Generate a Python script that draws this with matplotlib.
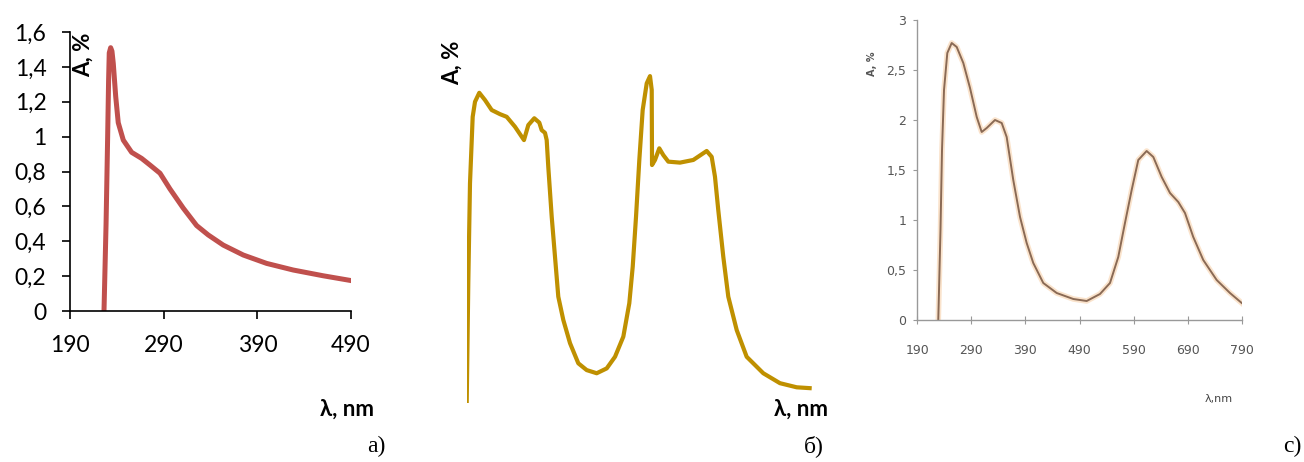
import matplotlib
matplotlib.use("Agg")
import matplotlib.pyplot as plt

# panel a) spectrum
wl_a = [226.3, 228.5, 230.2, 231.2, 231.9, 233.4, 234.8, 236.2, 238.8, 241.5,
        246.9, 255.8, 266.5, 275.4, 286.1, 296.7, 310.9, 325.2, 337.6, 353.6,
        375.0, 399.9, 428.3, 460.3, 490.6]
abs_a = [0, 0.5, 1.0, 1.32, 1.48, 1.51, 1.49, 1.42, 1.23, 1.08,
         0.98, 0.91, 0.875, 0.837, 0.79, 0.70, 0.59, 0.49, 0.436, 0.378,
         0.321, 0.273, 0.235, 0.202, 0.174]
ticks_a_x = [190, 290, 390, 490]
ticks_a_y = [0, 0.2, 0.4, 0.6, 0.8, 1.0, 1.2, 1.4, 1.6]
labels_a_y = ["0", "0,2", "0,4", "0,6", "0,8", "1", "1,2", "1,4", "1,6"]

# panel b) spectrum (no axes drawn in the original)
wl_b = [225.0, 227.6, 230.4, 234.8, 238.6, 245.6, 255.0, 265.9, 279.5, 290.5,
        304.1, 318.8, 325.9, 335.7, 343.9, 347.8, 353.2, 356.0, 358.6, 364.2,
        369.6, 375.0, 383.2, 394.2, 407.8, 421.5, 437.9, 454.3, 467.9, 481.5,
        491.3, 496.9, 502.3, 507.7, 513.2, 519.8, 525.2, 528.0, 528.5, 533.4,
        540.4, 547.0, 555.2, 574.3, 596.1, 618.0, 626.2, 631.6, 637.0, 645.2,
        653.4, 667.2, 683.5, 710.7, 738.0, 765.4, 790.0]
abs_b = [0, 0.495, 0.908, 1.182, 1.244, 1.281, 1.251, 1.210, 1.193, 1.182,
         1.141, 1.086, 1.148, 1.176, 1.158, 1.127, 1.116, 1.086, 0.976, 0.770,
         0.605, 0.440, 0.344, 0.248, 0.165, 0.137, 0.124, 0.144, 0.192, 0.275,
         0.413, 0.564, 0.770, 1.004, 1.210, 1.320, 1.350, 1.293, 0.983, 1.004,
         1.052, 1.024, 0.997, 0.993, 1.004, 1.041, 1.017, 0.935, 0.797, 0.605,
         0.440, 0.302, 0.192, 0.124, 0.083, 0.066, 0.062]

# panel c) spectrum
wl_c = [228.8, 232.9, 235.7, 239.4, 245.5, 253.6, 262.9, 275.1, 287.5, 299.9,
        309.1, 318.4, 333.7, 346.1, 355.3, 367.5, 380.0, 392.3, 404.5, 423.0,
        447.8, 478.5, 503.3, 527.9, 546.4, 561.7, 574.1, 586.5, 598.7, 614.2,
        626.5, 642.0, 657.4, 672.7, 685.1, 700.4, 718.9, 743.7, 768.3, 790.0]
abs_c = [0, 0.9, 1.7, 2.3, 2.67, 2.77, 2.73, 2.57, 2.32, 2.03,
         1.88, 1.92, 2.00, 1.97, 1.83, 1.40, 1.03, 0.77, 0.57, 0.37,
         0.27, 0.21, 0.19, 0.26, 0.37, 0.63, 0.97, 1.30, 1.60, 1.69,
         1.63, 1.43, 1.27, 1.18, 1.07, 0.83, 0.60, 0.40, 0.27, 0.17]
ticks_c_x = [190, 290, 390, 490, 590, 690, 790]
ticks_c_y = [0, 0.5, 1, 1.5, 2, 2.5, 3]
labels_c_y = ["0", "0,5", "1", "1,5", "2", "2,5", "3"]

W, H = 1304, 462
fig = plt.figure(figsize=(W / 100, H / 100), dpi=100)


def box(x0, y_top, x1, y_bot):
    return [x0 / W, 1 - y_bot / H, (x1 - x0) / W, (y_bot - y_top) / H]


# ---- a)
ax1 = fig.add_axes(box(70, 32, 351, 311))
ax1.plot(wl_a, abs_a, color="#C0504D", lw=3.6, solid_capstyle="butt",
         solid_joinstyle="round")
ax1.set_xlim(190, 490)
ax1.set_ylim(0, 1.6)
ax1.set_xticks(ticks_a_x)
ax1.set_yticks(ticks_a_y)
ax1.set_yticklabels(labels_a_y)
for s in ["top", "right"]:
    ax1.spines[s].set_visible(False)
for s in ["left", "bottom"]:
    ax1.spines[s].set_linewidth(1.2)
ax1.tick_params(direction="out", length=6, width=1.2, labelsize=16.5, pad=11)
for lab in ax1.get_xticklabels() + ax1.get_yticklabels():
    lab.set_fontfamily("Lato")
fig.text(83 / W, 1 - 55 / H, "A, %", rotation=90, ha="center", va="center",
         fontsize=16, fontweight="bold", family="Lato")
fig.text(347 / W, 1 - 409 / H, "λ, nm", ha="center", va="center", fontsize=16,
         fontweight="bold", family="Lato")
fig.text(376 / W, 1 - 446 / H, "а)", ha="center", va="center", fontsize=17,
         family="Liberation Serif")

# ---- б)
ax2 = fig.add_axes(box(466.7, 15.5, 811.7, 403.3))
ax2.plot(wl_b, abs_b, color="#BF9000", lw=3.0, solid_capstyle="butt",
         solid_joinstyle="round")
ax2.set_xlim(225, 790)
ax2.set_ylim(0, 1.6)
ax2.axis("off")
fig.text(452 / W, 1 - 63 / H, "A, %", rotation=90, ha="center", va="center",
         fontsize=16, fontweight="bold", family="Lato")
fig.text(801 / W, 1 - 409 / H, "λ, nm", ha="center", va="center", fontsize=16,
         fontweight="bold", family="Lato")
fig.text(814 / W, 1 - 446 / H, "б)", ha="center", va="center", fontsize=17,
         family="Liberation Serif")

# ---- c)
ax3 = fig.add_axes(box(917.3, 20, 1241.7, 320))
ax3.plot(wl_c, abs_c, color="#F6C89A", lw=4, alpha=0.5, solid_joinstyle="round")
ax3.plot(wl_c, abs_c, color="#8A6A55", lw=1.4, solid_joinstyle="round")
ax3.set_xlim(190, 790)
ax3.set_ylim(0, 3)
ax3.set_xticks(ticks_c_x)
ax3.set_yticks(ticks_c_y)
ax3.set_yticklabels(labels_c_y)
for s in ["top", "right"]:
    ax3.spines[s].set_visible(False)
for s in ["left", "bottom"]:
    ax3.spines[s].set_color("#999999")
    ax3.spines[s].set_linewidth(1.0)
ax3.tick_params(axis="x", direction="inout", length=6, color="#999999",
                labelsize=9, labelcolor="#555555", pad=14)
ax3.tick_params(axis="y", direction="out", length=3, color="#999999",
                labelsize=9, labelcolor="#555555", pad=5)
for lab in ax3.get_xticklabels() + ax3.get_yticklabels():
    lab.set_fontfamily("Liberation Sans Narrow")
fig.text(872 / W, 1 - 64 / H, "A, %", rotation=90, ha="center", va="center",
         fontsize=7, fontweight="bold", color="#555555", family="Liberation Sans Narrow")
fig.text(1219 / W, 1 - 399 / H, "λ,nm", ha="center", va="center", fontsize=8,
         color="#444444", family="Liberation Sans Narrow")
fig.text(1292 / W, 1 - 446 / H, "c)", ha="center", va="center", fontsize=17,
         family="Liberation Serif")

fig.savefig("out.png", dpi=100)
